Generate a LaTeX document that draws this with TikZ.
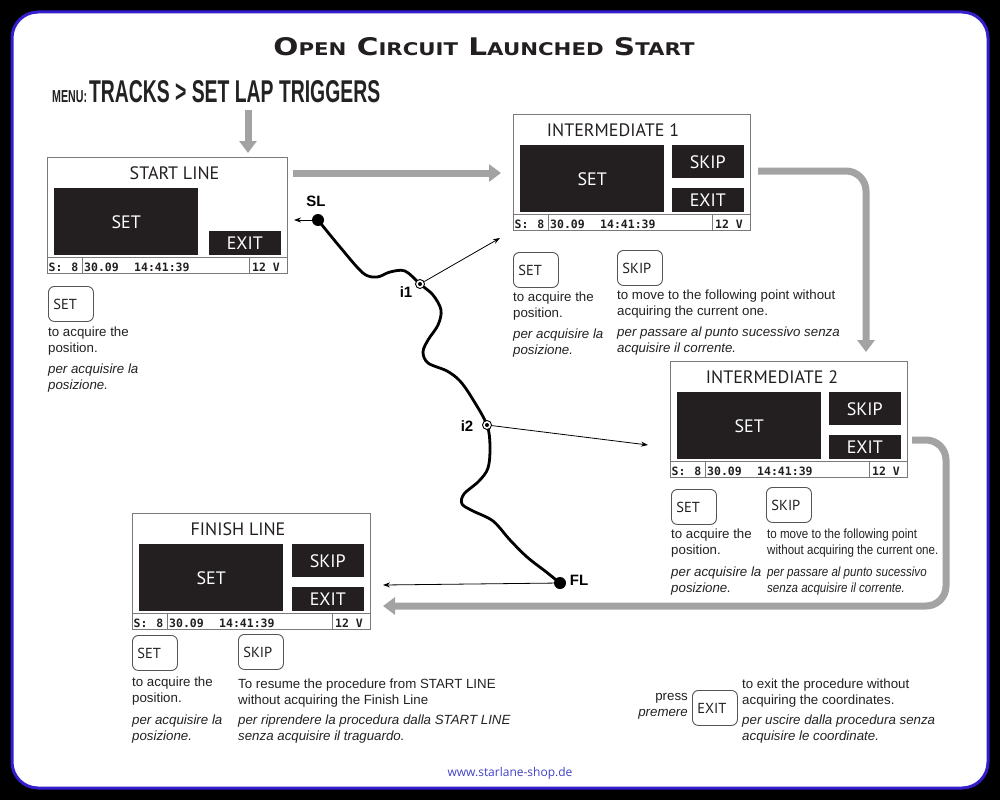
\documentclass[tikz,border=0pt]{standalone}
\usepackage{fontspec}
\usepackage{graphicx}
\usetikzlibrary{arrows.meta,calc}
\setmainfont{Liberation Sans}
\newfontfamily\scrfont{PT Sans}
\newfontfamily\statfont{DejaVu Sans Mono}
\newfontfamily\titlefont{DejaVu Sans}
\newfontfamily\condfont{Liberation Sans}[FakeStretch=0.87]
\newfontfamily\urlfont{Open Sans}
\definecolor{scrdark}{HTML}{231F20}
\definecolor{frameblue}{RGB}{52,30,205}
\definecolor{flowgray}{HTML}{A3A3A3}
\definecolor{keyedge}{HTML}{555555}
\definecolor{scredge}{HTML}{7A7A7A}
\definecolor{urlblue}{RGB}{65,65,200}
\definecolor{inkdark}{HTML}{222222}

\newcommand\lcd[6]{% name, x0, y0, x1, title centre x, title
  \pgfmathsetmacro\lcdw{#4-#2}
  \node[scrframe, anchor=north west, minimum width=\lcdw pt, minimum height=116pt] (#1) at (#2,#3) {};
  \node[scrtitle] (#1-title) at (#5,#3+16) {#6};
  \node[scrbtn, anchor=north west, minimum width=144pt, minimum height=67pt] (#1-set) at (#2+7,#3+31) {SET};
  \node[scrbtn, anchor=north east, minimum width=72pt, minimum height=24pt] (#1-exit) at (#4-6,#3+74) {EXIT};
  \draw[scrline] (#2,#3+100) -- (#4,#3+100);
  \draw[scrline] (#2+35,#3+100) -- (#2+35,#3+116);
  \draw[scrline] (#4-38,#3+100) -- (#4-38,#3+116);
  \node[stat] (#1-s) at (#2+1.5,#3+110) {S: \kern2pt8};
  \node[stat] (#1-d) at (#2+37,#3+110) {30.09};
  \node[stat] (#1-h) at (#2+87,#3+110) {14:41:39};
  \node[stat] (#1-v) at (#4-35,#3+110) {12 V};
}
\newcommand\lcdskip[3]{% name, x1, y0
  \node[scrbtn, anchor=north east, minimum width=72pt, minimum height=33pt] (#1-skip) at (#2-6,#3+31) {SKIP};
}

\begin{document}
\begin{tikzpicture}[x=1pt,y=-1pt,
  scrframe/.style={draw=scredge, line width=0.8pt, fill=white, inner sep=0pt},
  scrtitle/.style={font=\scrfont\fontsize{18}{18}\selectfont, text=scrdark, inner sep=0pt},
  scrbtn/.style={fill=scrdark, draw=none, text=white, inner sep=0pt, font=\scrfont\fontsize{18}{18}\selectfont},
  scrline/.style={draw=scredge, line width=0.8pt},
  stat/.style={anchor=west, inner sep=0pt, text=scrdark, font=\statfont\bfseries\fontsize{11.5}{12}\selectfont},
  keybox/.style={draw=keyedge, line width=0.9pt, rounded corners=6pt, anchor=north west, minimum height=35pt, text width=35pt, inner xsep=5pt, align=left, font=\scrfont\fontsize{14.5}{14.5}\selectfont, text=scrdark},
  desc/.style={anchor=north west, inner sep=0pt, align=left, text=inkdark, font=\fontsize{13.3}{16}\selectfont},
  conddesc/.style={desc, font=\condfont\fontsize{13.3}{16}\selectfont},
  grayflow/.style={draw=flowgray, line width=7pt, -{Triangle[length=12pt,width=17pt]}},
  thinarrow/.style={draw=black, line width=0.8pt, -{Stealth[length=7pt,width=5pt]}},
  track/.style={draw=black, line width=2.8pt, line cap=round, line join=round},
  ptlabel/.style={inner sep=0pt, font=\bfseries\fontsize{15}{15}\selectfont},
  bigdot/.style={circle, fill=black, minimum size=12pt, inner sep=0pt},
  ringdot/.style={circle, draw=black, line width=0.9pt, fill=white, minimum size=9pt, inner sep=0pt}
]
\fill[black] (0,0) rectangle (1000,800);
\useasboundingbox (0,0) rectangle (1000,800);
\draw[fill=white, draw=frameblue, line width=3pt, rounded corners=26pt] (12,12) rectangle (988,788);

% title and menu
\node[inner sep=0pt, anchor=base, text=scrdark] (title) at (484,56) {\resizebox{421pt}{18pt}{\titlefont\bfseries\fontsize{25}{25}\selectfont O{\fontsize{18}{18}\selectfont PEN} C{\fontsize{18}{18}\selectfont IRCUIT} L{\fontsize{18}{18}\selectfont AUNCHED} S{\fontsize{18}{18}\selectfont TART}}};
\node[inner sep=0pt, anchor=base west, text=inkdark] (menu) at (52,102) {\resizebox{328pt}{22pt}{\bfseries\fontsize{30}{30}\selectfont{\fontsize{16.5}{16.5}\selectfont MENU:}\kern3pt TRACKS > SET LAP TRIGGERS}};

% screens
\lcd{scrsl}{47}{157}{287}{174.5}{START LINE}
\lcd{scri1}{513}{114}{750}{613}{INTERMEDIATE 1}
\lcdskip{scri1}{750}{114}
\lcd{scri2}{670}{361}{907}{772}{INTERMEDIATE 2}
\lcdskip{scri2}{907}{361}
\lcd{scrfl}{132}{513}{370}{238}{FINISH LINE}
\lcdskip{scrfl}{370}{513}

% grey flow arrows
\coordinate (m1) at (248,110);
\coordinate (a2s) at (293,173);
\coordinate (a2e) at (501,173);
\coordinate (a3s) at (758,171);
\coordinate (a3e) at (866,352);
\coordinate (a4s) at (912,440);
\coordinate (a4e) at (383,606);
\draw[grayflow] (m1) -- (248,153);
\draw[grayflow] (a2s) -- (a2e);
\draw[grayflow, rounded corners=20pt] (a3s) -- (a3e |- a3s) -- (a3e);
\draw[grayflow, rounded corners=20pt] (a4s) -- (946,440) -- (946,606) -- (a4e);

% track
\draw[track] plot[smooth, tension=0.55] coordinates {(318,220) (340,247) (363,273) (377,277) (390,272) (405,271) (420,284) (433,295) (441,310) (438,325) (428,340) (423,352) (428,363) (447,371) (460,381) (472,398) (487,425) (490,447) (488,468) (479,481) (464,494) (462,504) (473,511) (493,521) (510,540) (527,557) (545,571) (560,583)};

\node[bigdot] (ptSL) at (318,220) {};
\node[ringdot] (pti1) at (420,284) {};
\fill[black] (pti1.center) circle (2pt);
\node[ringdot] (pti2) at (487,425) {};
\fill[black] (pti2.center) circle (2pt);
\node[bigdot] (ptFL) at (560,583) {};

\node[ptlabel] (lSL) at (316,201) {SL};
\node[ptlabel] (li1) at (406,292) {i1};
\node[ptlabel] (li2) at (467,426) {i2};
\node[ptlabel] (lFL) at (579,580) {FL};

\coordinate (tSL) at (294,220);
\coordinate (ti1) at (500,238);
\coordinate (ti2) at (648,445);
\coordinate (tFL) at (383,585);
\draw[thinarrow] (ptSL) -- (tSL);
\draw[thinarrow] (pti1) -- (ti1);
\draw[thinarrow] (pti2) -- (ti2);
\draw[thinarrow] (ptFL) -- (tFL);

% keys and descriptions
\node[keybox] (k1) at (48,286) {SET};
\node[desc] (d1) at (48,327) {to acquire the\\position.\\[5pt]\textit{per acquisire la}\\\textit{posizione.}};

\node[keybox] (k2) at (513,252) {SET};
\node[desc] (d2) at (513,292) {to acquire the\\position.\\[5pt]\textit{per acquisire la}\\\textit{posizione.}};
\node[keybox] (k3) at (617,250) {SKIP};
\node[desc] (d3) at (617,290) {to move to the following point without\\acquiring the current one.\\[5pt]\textit{per passare al punto sucessivo senza}\\\textit{acquisire il corrente.}};

\node[keybox] (k4) at (671,489) {SET};
\node[desc] (d4) at (671,529) {to acquire the\\position.\\[6pt]\textit{per acquisire la}\\\textit{posizione.}};
\node[keybox] (k5) at (766,487) {SKIP};
\node[conddesc] (d5) at (767,529) {to move to the following point\\without acquiring the current one.\\[6pt]\textit{per passare al punto sucessivo}\\\textit{senza acquisire il corrente.}};

\node[keybox] (k6) at (132,635) {SET};
\node[desc] (d6) at (132,677) {to acquire the\\position.\\[6pt]\textit{per acquisire la}\\\textit{posizione.}};
\node[keybox] (k7) at (238,634) {SKIP};
\node[desc] (d7) at (238,679) {To resume the procedure from START LINE\\without acquiring the Finish Line\\[4pt]\textit{per riprendere la procedura dalla START LINE}\\\textit{senza acquisire il traguardo.}};

\node[keybox] (k8) at (692,690) {EXIT};
\node[desc, anchor=north east, align=right] (d8a) at (688,693) {press\\\textit{premere}};
\node[desc] (d8) at (742,679) {to exit the procedure without\\acquiring the coordinates.\\[4pt]\textit{per uscire dalla procedura senza}\\\textit{acquisire le coordinate.}};

\node[inner sep=0pt, text=urlblue, font=\urlfont\fontsize{12}{12}\selectfont] (url) at (510,773) {www.starlane-shop.de};
\end{tikzpicture}
\end{document}
